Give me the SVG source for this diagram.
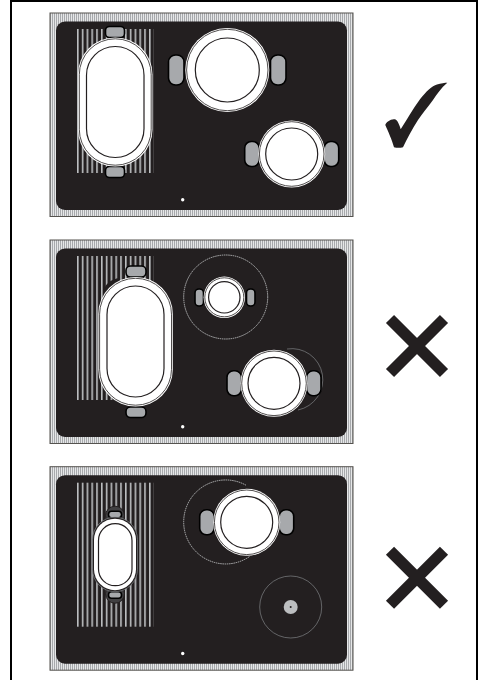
<svg xmlns="http://www.w3.org/2000/svg" width="488" height="680" viewBox="0 0 488 680">
<style>
.frame{fill:url(#fine);stroke:#55534f;stroke-width:1}
.top{fill:#231f20}
.zone{fill:url(#bars)}
.grip{fill:#a7a9ac;stroke:#000;stroke-width:1.6}
.rim{fill:#fff;stroke:none}
.rim2{fill:none;stroke:#231f20;stroke-width:.8}
.base{fill:#fff;stroke:#231f20;stroke-width:1.2}
.dot{fill:#fff}
.ring{fill:none;stroke:#d1d3d4;stroke-width:.8;stroke-dasharray:1.5 .7}
.ring2{fill:none;stroke:#808285;stroke-width:.7}
.halo{fill:#414042;stroke:#231f20;stroke-width:1}
.mark{fill:none;stroke:#231f20;stroke-width:11.500}
</style>
<defs>
<pattern id="fine" width="2" height="4" patternUnits="userSpaceOnUse"><rect width="2" height="4" fill="#e6e7e8"/><rect width="1" height="4" fill="#a7a9ac"/></pattern>
<pattern id="bars" x="77" width="4.8" height="10" patternUnits="userSpaceOnUse"><rect width="1.6" height="10" fill="#bcbec0"/></pattern>
<g id="hob">
<rect class="frame" x="50" y="13" width="303" height="203.500"/>
<rect class="top" x="56" y="21.500" width="291" height="188.500" rx="9"/>
<rect class="zone" x="77" y="29" width="77" height="144"/>
<circle class="dot" cx="182.700" cy="199.800" r="1.700"/>
</g>
<g id="pot66">
<rect class="grip" x="-47" y="-12.500" width="14.500" height="25" rx="6.500"/>
<rect class="grip" x="32.500" y="-12.500" width="14.500" height="25" rx="6.500"/>
<circle class="rim" r="33.500"/><circle class="rim2" r="32.300"/><circle class="base" r="26"/>
</g>
</defs>
<rect id="background" width="488" height="680" fill="#fff"/>
<g id="page-border" fill="none" stroke="#000" stroke-width="2">
<path d="M11 680V1H477V680"/>
</g>
<g id="panel-1">
<use href="#hob"/>
<g id="oval-pan-1">
<rect class="grip" x="105.500" y="26.500" width="19" height="11" rx="4"/>
<rect class="grip" x="105.500" y="166.500" width="19" height="11" rx="4"/>
<rect class="rim" x="78" y="37.500" width="74.500" height="129" rx="37"/>
<rect class="rim2" x="79.300" y="38.800" width="71.900" height="126.400" rx="35.900"/>
<rect class="base" x="86.500" y="46.500" width="57.500" height="111" rx="28.700"/>
</g>
<g id="pot-1">
<rect class="grip" x="168.500" y="55" width="15.500" height="30" rx="7"/>
<rect class="grip" x="270.500" y="55" width="15.500" height="30" rx="7"/>
<circle class="rim" cx="227.300" cy="70" r="42"/><circle class="rim2" cx="227.300" cy="70" r="40.700"/><circle class="base" cx="227.300" cy="70" r="32"/>
</g>
<use id="pot-2" href="#pot66" x="291.700" y="154"/>
<path id="check" fill="#231f20" d="M385.300 125C386 122 391 118.500 395 119.300C397.500 120 399.500 125 400.700 129.300C406 121 413 109 420 99.300C426 91.500 432 86 437 84.500C441 83.300 445 82.700 447.300 82.700C441 88 437 94 433 100C427 108 422 114 418 120C412 129 407 139 403 147.300C400 148 397 148 394 147.300C392 140 388 131 385.300 125Z"/>
</g>
<g id="panel-2" transform="translate(0 227)">
<use href="#hob"/>
<g id="oval-pan-2">
<path fill="#231f20" d="M103 66C104 58 110 52 120 51L120 72Z"/>
<rect class="grip" x="126" y="39" width="20" height="11" rx="4.500"/>
<rect class="grip" x="126" y="180" width="20" height="10.500" rx="4.500"/>
<rect class="rim" x="98.300" y="50" width="74.500" height="129.500" rx="37"/>
<rect class="rim2" x="99.600" y="51.300" width="71.900" height="126.900" rx="35.900"/>
<rect class="base" x="107" y="59" width="57" height="111" rx="28.500"/>
</g>
<circle id="zone-ring-2" class="ring" cx="225.700" cy="70" r="42"/>
<g id="small-pot">
<rect class="grip" x="195" y="62" width="8.500" height="17" rx="4"/>
<rect class="grip" x="246.500" y="62" width="8.500" height="17" rx="4"/>
<circle class="rim" cx="224.300" cy="70.300" r="20.700"/><circle class="rim2" cx="224.300" cy="70.300" r="19.500"/><circle class="base" cx="224.300" cy="70.300" r="15.700"/>
</g>
<path id="zone-arc" class="ring2" d="M287 122A31 31 0 0 1 298 183"/>
<use id="pot-3" href="#pot66" x="274" y="156.300"/>
<path id="cross-1" class="mark" d="M390 92L444 146"/>
<path class="mark" d="M444 92L390 146"/>
</g>
<g id="panel-3" transform="translate(0 453.700)">
<use href="#hob"/>
<g id="oval-pan-3">
<circle class="halo" cx="115" cy="62" r="9.500"/>
<circle class="halo" cx="115" cy="140" r="9.500"/>
<rect class="grip" x="108.500" y="57.500" width="13" height="6.500" rx="3"/>
<rect class="grip" x="108.500" y="138" width="13" height="6.500" rx="3"/>
<rect x="92.500" y="63.500" width="45" height="74.500" rx="22.500" fill="#231f20" stroke="#808285" stroke-width=".7"/>
<rect class="rim" x="94" y="65" width="42" height="71.500" rx="21"/>
<rect class="base" x="98.500" y="70" width="33.500" height="62" rx="16.700"/>
</g>
<path id="zone-ring-3" class="ring" d="M246 31.500A42 42 0 1 0 250 102.500"/>
<use id="pot-4" href="#pot66" x="246.700" y="68.600"/>
<g id="empty-zone">
<circle class="ring2" cx="290.700" cy="153.300" r="31"/>
<circle cx="290.700" cy="153.300" r="7" fill="#bcbec0"/>
<circle cx="290.700" cy="153.300" r="1" fill="#231f20"/>
</g>
<path id="cross-2" class="mark" d="M390 97L444 151"/>
<path class="mark" d="M444 97L390 151"/>
</g>
</svg>
